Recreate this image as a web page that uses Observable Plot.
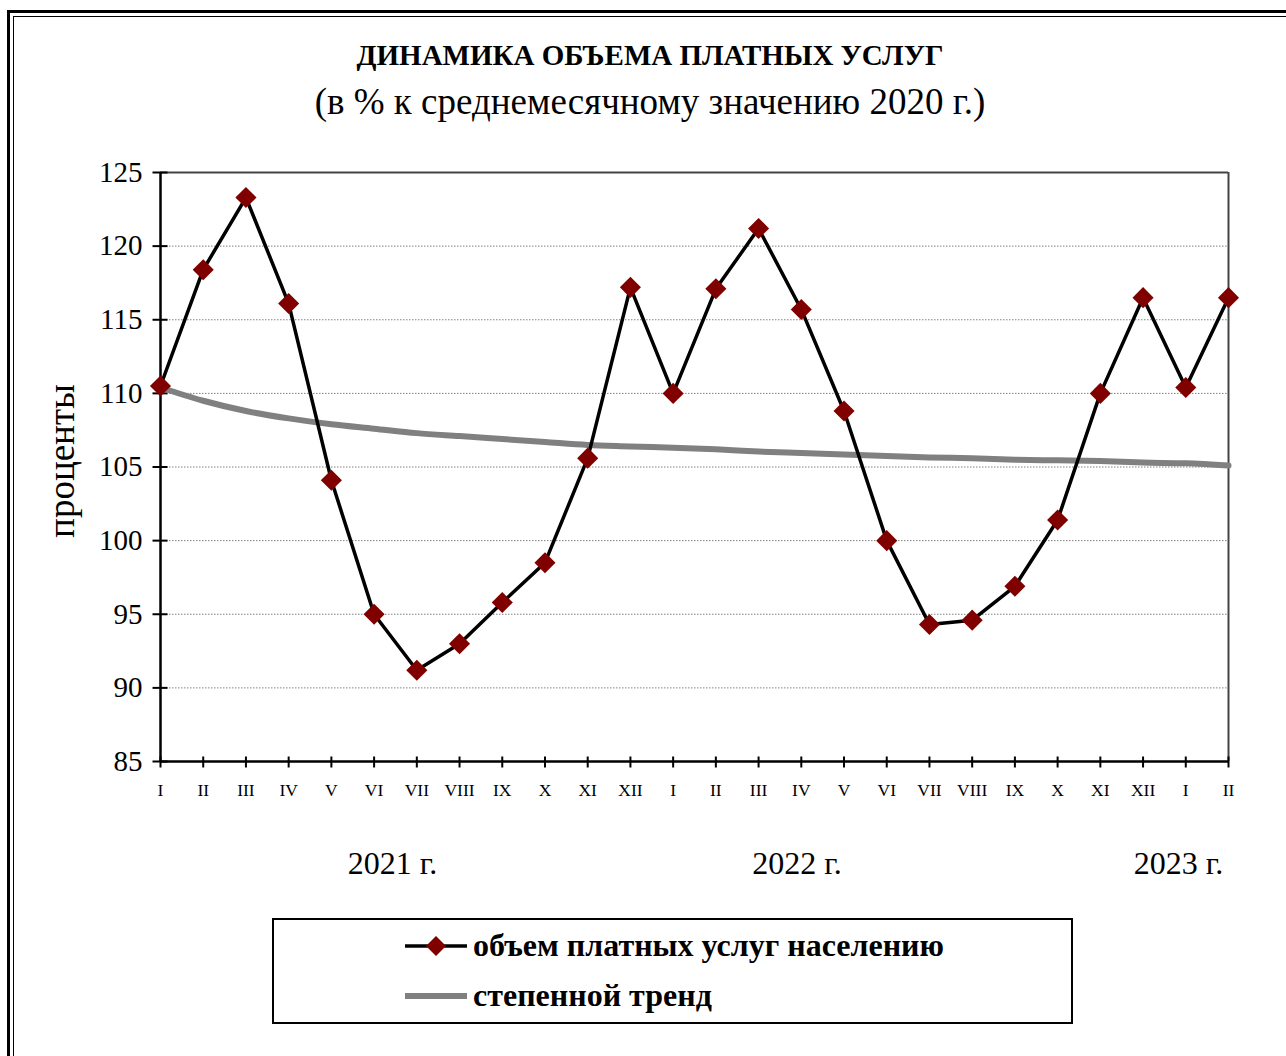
<!DOCTYPE html>
<html><head><meta charset="utf-8">
<script src="https://cdn.jsdelivr.net/npm/d3@7"></script>
<script src="https://cdn.jsdelivr.net/npm/@observablehq/plot@0.6"></script>
<style>
html,body{margin:0;padding:0;background:#fff;width:1286px;height:1056px;overflow:hidden;font-family:"Liberation Serif","Times New Roman",serif;color:#000;}
#page{position:relative;width:1286px;height:1056px;overflow:hidden;}
.frame1{position:absolute;left:7px;top:10px;width:1400px;height:1200px;border:3px solid #000;}
.frame2{position:absolute;left:13px;top:16px;width:1400px;height:1200px;border:1.5px solid #000;}
#title{position:absolute;left:0;top:0;width:1300px;height:140px;}
.t1{position:absolute;left:0;width:1300px;top:38px;text-align:center;font-weight:bold;font-size:29px;line-height:34px;}
.t2{position:absolute;left:0;width:1300px;top:80px;text-align:center;font-size:37px;line-height:44px;}
#chart{position:absolute;left:0;top:140px;}
#chart svg text{font-family:"Liberation Serif","Times New Roman",serif;}
#legend{position:absolute;left:272px;top:918px;width:797px;height:102px;border:2px solid #000;background:#fff;}
.sw{position:absolute;left:131px;width:62px;height:30px;}
.lt{position:absolute;left:199px;font-weight:bold;font-size:32px;line-height:38px;white-space:nowrap;}
</style></head>
<body><div id="page">
<div class="frame1"></div><div class="frame2"></div>
<div id="title"><div class="t1">ДИНАМИКА ОБЪЕМА ПЛАТНЫХ УСЛУГ</div><div class="t2">(в % к среднемесячному значению 2020 г.)</div></div>
<div id="chart"></div>
<div id="legend">
  <svg class="sw" style="top:11px"><line x1="0" x2="62" y1="15" y2="15" stroke="#000" stroke-width="3.5"/><path d="M31,5L41,15L31,25L21,15Z" fill="#800000"/></svg>
  <div class="lt" style="top:6px">объем платных услуг населению</div>
  <svg class="sw" style="top:61px"><line x1="0" x2="62" y1="15" y2="15" stroke="#808080" stroke-width="6"/></svg>
  <div class="lt" style="top:56px">степенной тренд</div>
</div>
</div>
<script>
const months = ["I","II","III","IV","V","VI","VII","VIII","IX","X","XI","XII",
                "I","II","III","IV","V","VI","VII","VIII","IX","X","XI","XII",
                "I","II"];
const values = [110.5,118.4,123.3,116.1,104.1,95.0,91.2,93.0,95.8,98.5,105.6,117.2,
                110.0,117.1,121.2,115.7,108.8,100.0,94.3,94.6,96.9,101.4,110.0,116.5,
                110.4,116.5];
const trend = [110.4,109.5,108.8,108.3,107.9,107.6,107.3,107.1,106.9,106.7,106.5,106.4,
               106.3,106.2,106.05,105.95,105.85,105.75,105.65,105.6,105.5,105.45,105.4,105.3,
               105.25,105.1];
const yTicks = [85,90,95,100,105,110,115,120,125];
const yearLabels = ["2021 г.","2022 г.","2023 г."];
const yearAt = [5.43,14.9,23.83];

const idx = months.map((m,i)=>i);
const hTick = {draw(ctx){ctx.moveTo(-8,0);ctx.lineTo(7,0);}};
const vTick = {draw(ctx){ctx.moveTo(0,-5);ctx.lineTo(0,6);}};

const chart = Plot.plot({
  width:1286, height:760,
  marginLeft:160, marginRight:58, marginTop:32, marginBottom:139,
  x:{domain:[0,25]},
  y:{domain:[85,125]},
  style:{fontFamily:"'Liberation Serif', 'Times New Roman', serif", background:"transparent", color:"#000", overflow:"visible"},
  marks:[
    Plot.gridY(yTicks.filter(d=>d>85 && d<125), {stroke:"#808080", strokeOpacity:1, strokeDasharray:"1.5,1.5", strokeWidth:1}),
    Plot.ruleY([125], {stroke:"#444", strokeWidth:2}),
    Plot.ruleX([25], {stroke:"#444", strokeWidth:2}),
    Plot.ruleX([0], {stroke:"#000", strokeWidth:2.5}),
    Plot.ruleY([85], {stroke:"#000", strokeWidth:2.5}),
    Plot.axisY({ticks:yTicks, tickSize:0, tickPadding:18, fontSize:29, tickFormat:d=>String(d), label:null}),
    Plot.axisX({ticks:idx, tickSize:0, tickPadding:22, fontSize:17.5, tickFormat:i=>months[i], label:null}),
    Plot.dot(yTicks, {y:d=>d, frameAnchor:"left", symbol:hTick, fill:"none", stroke:"#000", strokeWidth:2}),
    Plot.dot(idx, {x:d=>d, frameAnchor:"bottom", symbol:vTick, fill:"none", stroke:"#000", strokeWidth:2}),
    Plot.line(trend, {x:(d,i)=>i, y:d=>d, stroke:"#808080", strokeWidth:6, curve:"monotone-x"}),
    Plot.line(values, {x:(d,i)=>i, y:d=>d, stroke:"#000", strokeWidth:3.5}),
    Plot.dot(values, {x:(d,i)=>i, y:d=>d, symbol:"diamond2", r:9.5, fill:"#800000", stroke:"none"}),
    Plot.text(yearLabels, {x:(d,i)=>yearAt[i], text:d=>d, frameAnchor:"bottom", dy:102, fontSize:32, lineAnchor:"middle", fill:"#000"}),
    Plot.text(["проценты"], {text:d=>d, frameAnchor:"left", textAnchor:"middle", rotate:-90, dx:-98, dy:-6, fontSize:37, lineAnchor:"middle", fill:"#000"})
  ]
});
document.getElementById("chart").appendChild(chart);
</script>
</body></html>
